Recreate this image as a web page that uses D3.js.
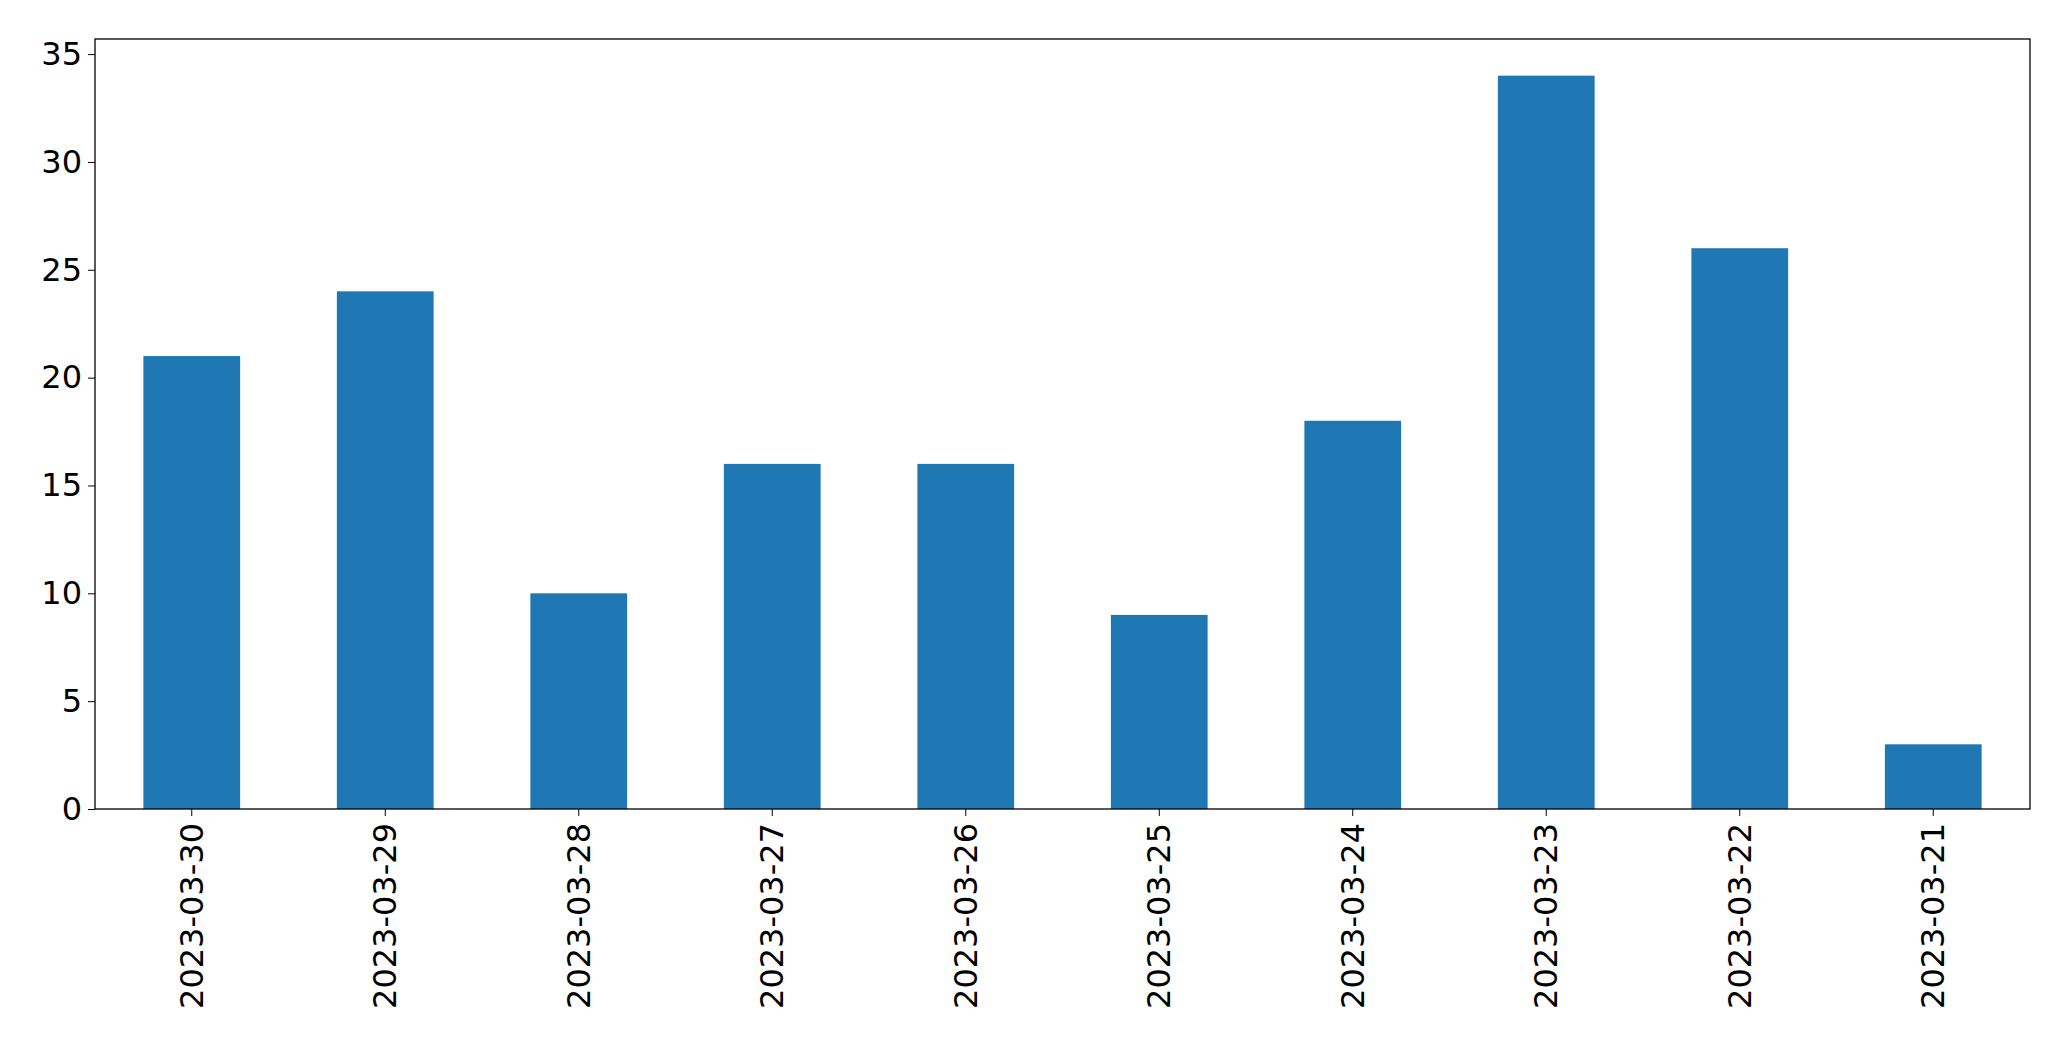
<!DOCTYPE html>
<html lang="en">
<head>
    <meta charset="UTF-8">
    <script src="https://d3js.org/d3.v7.min.js"></script>
    <style>
        body{ margin: 0; background: white; }
        text{ font-family: "DejaVu Sans", sans-serif; }
    </style>
</head>
<body>
    <svg id="main" width="2071" height="1061"></svg>
    <script>
        const dates = ["2023-03-30","2023-03-29","2023-03-28","2023-03-27","2023-03-26","2023-03-25","2023-03-24","2023-03-23","2023-03-22","2023-03-21"]
        const counts = [21, 24, 10, 16, 16, 9, 18, 34, 26, 3]
        const yTicks = [0, 5, 10, 15, 20, 25, 30, 35]

        const margin = {left: 95, right: 41, top: 39, bottom: 252}
        const width = 2071, height = 1061
        const svg = d3.select("#main")

        const x = d3.scaleBand().domain(dates)
            .range([margin.left, width - margin.right])
            .paddingInner(0.5).paddingOuter(0.25)
        const y = d3.scaleLinear().domain([0, 34 * 1.05])
            .range([height - margin.bottom, margin.top])

        svg.append("g").selectAll("rect")
            .data(dates)
            .join("rect")
            .attr("x", d => x(d))
            .attr("width", x.bandwidth())
            .attr("y", (d, i) => y(counts[i]))
            .attr("height", (d, i) => y(0) - y(counts[i]))
            .attr("fill", "#1f77b4")

        const yAxis = svg.append("g")
            .attr("transform", `translate(${margin.left},0)`)
            .call(d3.axisLeft(y).tickValues(yTicks).tickSize(7).tickPadding(6))
        yAxis.select(".domain").remove()
        yAxis.selectAll("text").attr("font-size", 32).attr("fill", "black")

        const xAxis = svg.append("g")
            .attr("transform", `translate(0,${height - margin.bottom})`)
            .call(d3.axisBottom(x).tickSize(7).tickPadding(6))
        xAxis.select(".domain").remove()
        xAxis.selectAll("text")
            .attr("font-size", 32).attr("fill", "black")
            .attr("transform", "rotate(-90)")
            .attr("text-anchor", "end")
            .attr("x", -14).attr("y", 0).attr("dy", "0.35em")

        svg.append("rect")
            .attr("x", margin.left).attr("y", margin.top)
            .attr("width", width - margin.left - margin.right)
            .attr("height", height - margin.top - margin.bottom)
            .attr("fill", "none").attr("stroke", "black").attr("stroke-width", 1.3)
    </script>
</body>
</html>
